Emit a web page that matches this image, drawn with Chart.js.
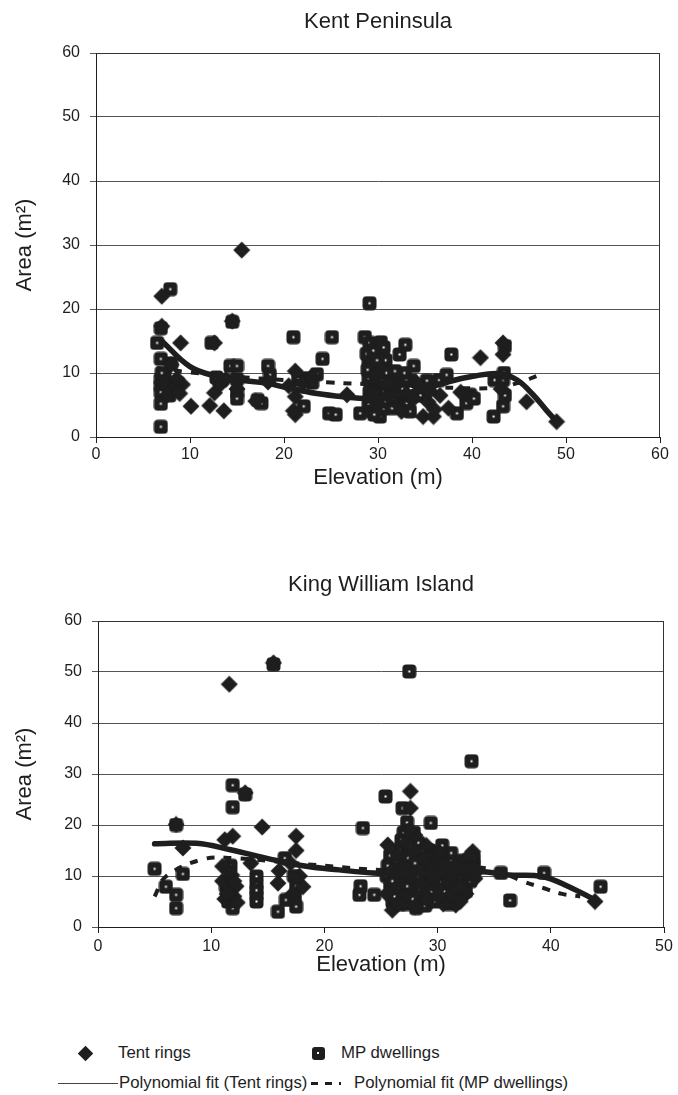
<!DOCTYPE html>
<html><head><meta charset="utf-8">
<script src="https://cdn.jsdelivr.net/npm/chart.js@4.4.1/dist/chart.umd.min.js"></script>
<style>
html,body{margin:0;padding:0;background:#fff;}
body{width:678px;height:1095px;position:relative;overflow:hidden;font-family:"Liberation Sans",Arial,sans-serif;color:#1e1e1e;}
canvas{position:absolute;left:0;}
#c1{top:0;width:678px;height:500px;}
#c2{top:560px;width:678px;height:427px;}
.lg{position:absolute;font-size:16.8px;line-height:20px;white-space:nowrap;}
.dia{position:absolute;width:11px;height:11px;background:#1e1e1e;transform:rotate(45deg);}
.sq{position:absolute;width:13px;height:13px;background:#1e1e1e;border-radius:3px;}
.sq i{position:absolute;left:5.5px;top:5.5px;width:2px;height:2px;background:#fff;}
.bar{position:absolute;background:#1e1e1e;}
</style></head><body>
<canvas id="c1" width="678" height="500"></canvas>
<canvas id="c2" width="678" height="427"></canvas>

<div class="dia" style="left:79.5px;top:1047.5px"></div>
<div class="lg" style="left:118px;top:1043px">Tent rings</div>
<div class="sq" style="left:311.5px;top:1046.5px"><i></i></div>
<div class="lg" style="left:341px;top:1043px">MP dwellings</div>
<div class="bar" style="left:58px;top:1083px;width:60px;height:1px;background:#444"></div>
<div class="lg" style="left:119px;top:1073px">Polynomial fit (Tent rings)</div>
<div class="bar" style="left:311px;top:1082px;width:7px;height:3px"></div>
<div class="bar" style="left:325px;top:1082px;width:7px;height:3px"></div>
<div class="bar" style="left:339px;top:1082px;width:2px;height:3px"></div>
<div class="lg" style="left:354px;top:1073px">Polynomial fit (MP dwellings)</div>

<script>
// ---------- DATA ----------
const yTickValues = [0, 10, 20, 30, 40, 50, 60];
const kentXTickValues = [0, 10, 20, 30, 40, 50, 60];
const kwXTickValues = [0, 10, 20, 30, 40, 50];

// Kent Peninsula: [elevation, area]
const kentTent = [[15.5,29.2],[7.0,22.0],[7.0,17.3],[9.0,14.7],[14.5,18.1],[12.6,14.7],[10.1,4.8],[12.1,4.9],[13.6,4.1],
 [12.6,6.9],[13.2,8.2],[8.0,11.3],[7.2,8.5],[8.3,7.5],[9.2,8.2],[7.6,6.6],[8.6,9.1],[13.8,9.0],[15.0,7.5],[17.0,5.6],
 [18.3,8.6],[21.2,10.3],[21.2,6.3],[21.2,3.5],[21.0,4.1],[22.0,8.4],[23.0,9.5],[26.7,6.6],[29.5,7.0],[29.8,9.5],
 [30.0,5.2],[31.0,6.5],[31.5,8.0],[32.2,5.0],[33.0,6.7],[34.0,8.6],[34.8,3.2],[35.9,3.2],[35.3,5.5],[36.6,6.5],
 [37.5,4.5],[38.8,7.0],[40.9,12.4],[43.3,14.7],[43.3,12.9],[43.1,7.5],[45.8,5.5],[49.0,2.4],
 [20.5,8.0],[31.0,8.5],[32.0,6.5],[33.8,6.0],[34.3,8.0],[32.5,4.0],[36.0,4.3],[35.5,7.2],[8.9,6.8]];
const kentMp = [[7.9,23.1],[6.5,14.7],[6.9,17.0],[6.9,12.2],[6.9,9.0],[6.9,8.0],[6.9,7.0],[6.9,5.2],[6.9,1.6],[7.5,8.3],
 [8.0,11.5],[8.0,8.2],[12.3,14.7],[12.8,9.3],[14.5,18.0],[14.3,11.1],[15.0,11.1],[15.0,9.0],[15.0,7.0],[15.0,6.0],
 [17.2,5.8],[17.6,5.3],[18.3,11.1],[18.5,9.7],[21.0,15.6],[22.1,4.8],[22.5,9.2],[23.5,9.8],[24.1,12.2],[25.1,15.6],
 [24.8,3.7],[25.5,3.5],[28.6,15.6],[29.1,20.9],[29.1,14.7],[28.1,3.7],[29.0,12.0],[29.2,11.0],[29.3,10.0],[29.0,9.0],
 [29.4,8.0],[29.1,7.0],[29.3,6.0],[29.0,5.0],[29.4,4.0],[29.8,14.5],[30.0,13.5],[30.1,12.5],[29.9,11.5],[30.2,10.5],
 [29.8,8.5],[30.1,7.5],[30.3,6.5],[30.0,5.5],[30.2,3.2],[30.3,14.8],[30.5,13.0],[30.4,11.0],[30.5,9.0],[30.6,7.0],
 [30.6,4.5],[31.3,9.7],[31.8,8.0],[31.5,6.0],[32.3,9.5],[32.3,12.9],[32.9,14.4],[32.6,7.5],[33.0,5.2],[33.4,4.0],
 [33.8,11.1],[33.5,8.8],[34.5,6.5],[35.2,8.8],[36.5,8.9],[37.3,9.7],[37.8,12.9],[38.4,3.7],[39.4,5.3],[39.8,6.6],
 [40.2,6.0],[42.3,3.2],[42.4,8.9],[43.3,8.9],[43.3,4.8],[43.5,6.5],[43.4,10.0],[43.5,14.2],
 [28.8,13.0],[29.5,13.5],[30.8,12.0],[29.6,3.5],[30.8,5.5],[30.9,10.0],[28.9,10.5],[29.7,6.5],[31.5,4.5],[33.0,9.0],
 [32.8,10.0],[31.8,10.3],[21.5,9.0],[23.0,8.5],[7.3,9.8],[8.5,8.0],[7.8,6.5],[7.0,10.0],[29.9,12.0],[30.6,14.0]];
const kentTentFitX = [7, 10, 12.8, 15.3, 18.2, 20.6, 23.5, 26.3, 29, 32, 34.5, 37.7, 40.1, 43, 44.8, 46.5, 47.9, 49];
const kentTentFitY = [15, 11, 9.5, 8.9, 8.4, 7.6, 6.8, 6.3, 6.0, 6.5, 7.4, 8.7, 9.5, 9.9, 8.9, 6.6, 4.2, 2.4];
const kentMpFitX = [6.5, 10, 15, 20, 25, 30, 35, 40, 43, 45, 47];
const kentMpFitY = [10.8, 10.1, 9.4, 8.9, 8.5, 8.2, 7.9, 7.6, 7.8, 8.5, 9.6];

// King William Island: [elevation, area]
const kwTent = [[11.6,47.6],[15.5,51.8],[13.0,26.3],[14.5,19.6],[6.9,20.1],[11.9,17.8],[11.2,17.1],[7.5,15.5],[17.5,17.8],
 [17.5,15.0],[13.5,12.5],[11.0,11.9],[15.9,8.6],[18.1,7.9],[11.0,9.0],[11.5,7.0],[11.2,5.5],[12.0,6.0],[12.2,8.0],
 [11.8,10.2],[12.3,4.8],[16.0,11.0],[17.8,10.0],[17.2,6.5],[17.0,12.5],[27.6,26.6],[27.6,23.3],[25.6,16.1],[33.1,14.8],
 [31.6,4.3],[26.0,3.3],[43.9,5.0],[26.5,14.0],[27.0,12.0],[27.5,10.0],[26.5,8.0],[27.0,6.0],[28.0,15.0],[28.5,11.0],
 [28.5,8.5],[29.0,5.5],[29.5,13.0],[30.0,10.0],[30.0,7.5],[30.5,12.5],[31.0,9.0],[31.0,6.0],[31.8,11.0],[32.0,8.0],
 [32.5,13.0],[32.6,10.5],[33.0,12.0],[32.5,6.5],[28.0,18.0],[27.5,19.0],[26.0,11.0],[25.5,6.5],[29.0,16.0],[30.5,4.5],[33.5,11.0],
 [27.2,16.5],[28.8,13.5],[30.2,14.5],[29.6,9.5],[31.5,12.0],[32.8,14.0],[26.5,4.5],[28.0,4.0],[30.0,6.0],[32.0,5.0],[33.3,9.5],
 [11.4,6.5],[12.0,9.0],[11.6,11.0]];
const kwMp = [[27.5,50.1],[33.0,32.5],[5.0,11.4],[6.0,7.9],[6.9,6.3],[6.9,3.7],[6.9,20.0],[7.5,10.4],[11.9,27.8],[11.9,23.5],
 [11.9,3.7],[11.7,12.0],[11.3,8.0],[14.0,9.9],[14.0,8.3],[14.0,6.2],[14.0,5.0],[15.9,3.0],[17.5,4.0],[16.6,5.3],
 [16.5,13.5],[15.5,51.5],[13.0,26.0],[17.3,10.0],[17.5,8.0],[23.4,19.4],[25.4,25.6],[26.9,23.3],[29.4,20.4],[27.3,20.5],
 [23.1,6.3],[24.4,6.3],[23.2,8.0],[28.1,3.7],[36.4,5.2],[35.6,10.6],[39.4,10.6],[44.4,7.9],[25.5,10.0],[25.8,8.5],
 [26.0,5.0],[26.5,12.5],[26.8,9.5],[27.0,7.0],[27.2,4.5],[27.5,17.5],[27.6,16.0],[27.8,14.0],[27.8,11.5],[28.0,9.0],
 [28.2,6.5],[28.6,13.0],[28.8,10.5],[29.0,8.0],[29.0,4.8],[29.3,15.0],[29.6,12.0],[29.8,9.5],[29.9,6.5],[30.4,14.0],
 [30.5,11.0],[30.7,8.5],[30.8,6.0],[31.2,13.0],[31.4,10.0],[31.5,7.5],[32.0,12.5],[32.2,9.5],[32.5,7.0],[33.0,10.5],
 [33.2,13.5],[31.0,4.5],[27.0,18.5],[26.6,15.0],[26.2,6.0],
 [26.0,9.0],[26.3,13.0],[26.7,4.5],[27.0,10.5],[27.3,8.0],[27.4,13.5],[27.8,5.5],[28.0,12.5],[28.3,10.0],[28.4,7.5],
 [28.7,15.0],[28.9,4.2],[29.2,11.0],[29.4,14.0],[29.5,7.0],[29.8,5.0],[30.1,12.5],[30.2,9.0],[30.4,16.0],[30.6,7.0],
 [31.0,11.5],[31.2,14.5],[31.3,8.5],[31.6,5.5],[31.9,10.0],[32.2,13.0],[32.4,8.0],[32.7,11.5],[32.9,9.0],[33.2,12.0],
 [26.8,17.0],[27.9,18.5],[28.3,16.5],[25.6,12.0],[25.8,14.0],[14.0,7.2],[17.4,6.0],[11.5,5.0]];
const kwTentFitX = [5, 8.7, 11.6, 15.4, 18.4, 21.3, 24.3, 27, 30, 33.7, 36.3, 39.2, 41.6, 43.9];
const kwTentFitY = [16.3, 16.4, 15.2, 13.2, 11.9, 11.2, 10.6, 10.5, 10.6, 10.9, 10.2, 9.9, 7.9, 5.3];
const kwMpFitX = [5, 6, 9.3, 12, 15, 20, 25, 30, 34.4, 37.6, 39.4, 41, 42.6];
const kwMpFitY = [6.0, 9.9, 13.3, 13.5, 13.0, 12.0, 11.2, 11.3, 11.5, 8.9, 7.6, 6.5, 6.0];

// ---------- RENDER ----------
const FONT = '"Liberation Sans", Arial, sans-serif';
const INK = '#1e1e1e';

function mpMarker() {
  const c = document.createElement('canvas'); c.width = 15; c.height = 15;
  const g = c.getContext('2d');
  g.fillStyle = INK; g.beginPath();
  if (g.roundRect) g.roundRect(0.5, 0.5, 14, 14, 4); else g.rect(0.5, 0.5, 14, 14);
  g.fill();
  g.fillStyle = '#fff'; g.fillRect(6.5, 6.5, 2, 2);
  return c;
}
function diamondMarker() {
  const c = document.createElement('canvas'); c.width = 18; c.height = 18;
  const g = c.getContext('2d');
  g.fillStyle = INK; g.beginPath();
  g.moveTo(9, 0.5); g.lineTo(17.5, 9); g.lineTo(9, 17.5); g.lineTo(0.5, 9); g.closePath(); g.fill();
  return c;
}
const MP_IMG = mpMarker(), DIA_IMG = diamondMarker();

const pts = arr => arr.map(p => ({ x: p[0], y: p[1] }));
const fit = (xs, ys) => xs.map((x, i) => ({ x: x, y: ys[i] }));

const framePlugin = {
  id: 'frame',
  beforeDatasetsDraw(chart) {
    const a = chart.chartArea, g = chart.ctx;
    g.save(); g.strokeStyle = '#333'; g.lineWidth = 1;
    g.beginPath();
    g.moveTo(Math.round(a.left) + 0.5, Math.round(a.top) + 0.5);
    g.lineTo(Math.round(a.right) - 0.5, Math.round(a.top) + 0.5);
    g.lineTo(Math.round(a.right) - 0.5, Math.round(a.bottom));
    g.stroke(); g.restore();
  }
};

function makeChart(id, o) {
  return new Chart(document.getElementById(id), {
    type: 'scatter',
    data: { datasets: [
      { label: 'Polynomial fit (Tent rings)', data: fit(o.tfx, o.tfy), showLine: true, borderColor: INK,
        borderWidth: 5.5, pointRadius: 0, tension: 0.4, fill: false, borderCapStyle: 'round' },
      { label: 'Polynomial fit (MP dwellings)', data: fit(o.mfx, o.mfy), showLine: true, borderColor: INK,
        borderWidth: 4, borderDash: [8, 9], pointRadius: 0, tension: 0.4, fill: false },
      { label: 'Tent rings', data: pts(o.tent), pointStyle: DIA_IMG, pointRadius: 8 },
      { label: 'MP dwellings', data: pts(o.mp), pointStyle: MP_IMG, pointRadius: 8 }
    ] },
    options: {
      responsive: false, animation: false, devicePixelRatio: 1,
      layout: { padding: { left: 0, right: o.padR, top: 0, bottom: 0 } },
      plugins: {
        legend: { display: false }, tooltip: { enabled: false },
        title: { display: true, text: o.title, fullSize: false, color: INK,
          font: { family: FONT, size: 22, weight: 'normal' }, padding: o.titlePad }
      },
      scales: {
        x: { type: 'linear', min: 0, max: o.xmax,
          afterBuildTicks: s => { s.ticks = o.xticks.map(v => ({ value: v })); },
          ticks: { font: { family: FONT, size: 16 }, color: INK, padding: o.xtp },
          grid: { display: true, drawOnChartArea: false, drawTicks: true, tickLength: 6, color: INK },
          border: { display: true, color: INK, width: 1 },
          title: { display: true, text: 'Elevation (m)', color: INK, font: { family: FONT, size: 22 }, padding: { top: 0, bottom: 8.8 } },
          afterFit: s => { s.height = o.xh; } },
        y: { type: 'linear', min: 0, max: 60,
          afterBuildTicks: s => { s.ticks = yTickValues.map(v => ({ value: v })); },
          ticks: { font: { family: FONT, size: 16 }, color: INK, padding: 10 },
          grid: { color: '#555', lineWidth: 1, tickLength: 6 },
          border: { display: true, color: INK, width: 1 },
          title: { display: true, text: 'Area (m\u00B2)', color: INK, font: { family: FONT, size: 22 }, padding: { top: 11.8, bottom: 0 } },
          afterFit: s => { s.width = o.yw; } }
      }
    },
    plugins: [framePlugin]
  });
}

makeChart('c1', { title: 'Kent Peninsula', xmax: 60, xticks: kentXTickValues,
  tent: kentTent, mp: kentMp, tfx: kentTentFitX, tfy: kentTentFitY, mfx: kentMpFitX, mfy: kentMpFitY,
  padR: 18, yw: 96, xh: 63, xtp: 2, titlePad: { top: 8.8, bottom: 17.8 } });
makeChart('c2', { title: 'King William Island', xmax: 50, xticks: kwXTickValues,
  tent: kwTent, mp: kwMp, tfx: kwTentFitX, tfy: kwTentFitY, mfx: kwMpFitX, mfy: kwMpFitY,
  padR: 14, yw: 98, xh: 60, xtp: 4, titlePad: { top: 11.8, bottom: 22.8 } });
</script>
</body></html>
